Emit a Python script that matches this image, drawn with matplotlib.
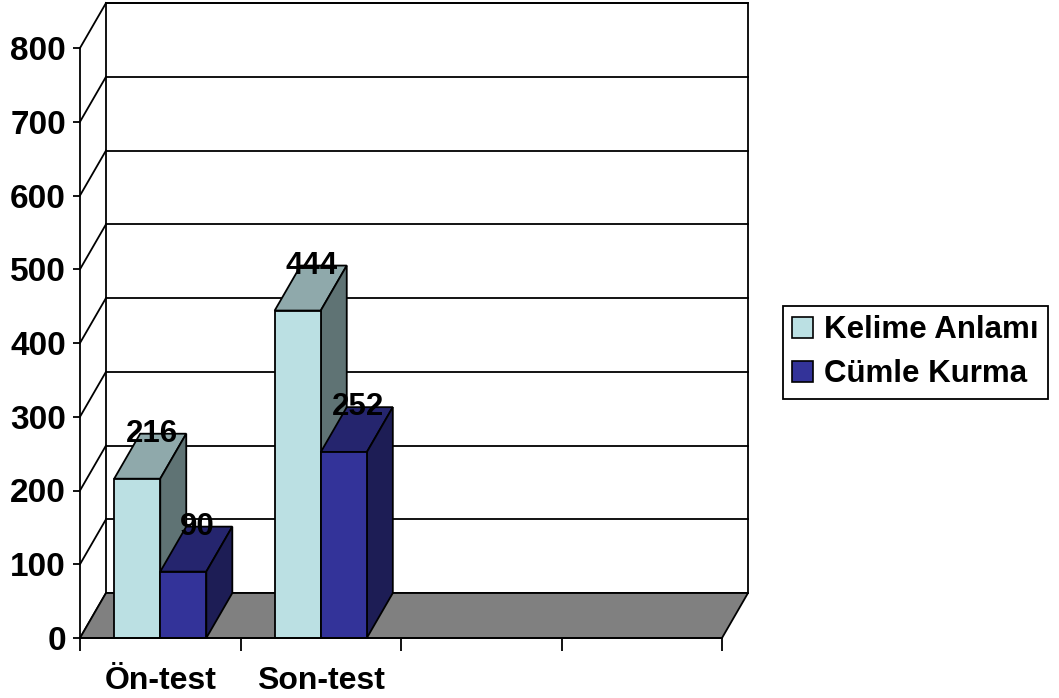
import matplotlib.pyplot as plt
from matplotlib.patches import Polygon, Rectangle, Patch

plt.rcParams['font.family'] = ['Liberation Sans', 'DejaVu Sans']

categories = ['Ön-test', 'Son-test']
series_names = ['Kelime Anlamı', 'Cümle Kurma']
kelime = [216, 444]
cumle = [90, 252]
yticks = [0, 100, 200, 300, 400, 500, 600, 700, 800]

front_cols = ['#BBE0E3', '#333399']
top_cols = ['#8FA9AB', '#25256E']
side_cols = ['#5F7374', '#1D1D55']

n_slots = 4
dx, dy = 0.162, 61      # depth offset in data units
bw = 0.287               # bar width in slot units
lw = 1.3

fig = plt.figure(figsize=(10.59, 6.98), dpi=100)
ax = fig.add_axes([80 / 1059, 60 / 698, 642 / 1059, 590 / 698])
ax.set_xlim(0, n_slots)
ax.set_ylim(0, 800)
ax.patch.set_visible(False)
for s in ['top', 'right']:
    ax.spines[s].set_visible(False)
for s in ['left', 'bottom']:
    ax.spines[s].set_linewidth(lw)
    ax.spines[s].set_zorder(10)

# back wall and gridlines
ax.add_patch(Rectangle((dx, dy), n_slots, 800, facecolor='white', edgecolor='black',
                       lw=lw, clip_on=False, zorder=1))
for v in yticks:
    ax.plot([dx, n_slots + dx], [v + dy, v + dy], color='black', lw=lw, clip_on=False, zorder=1)
    ax.plot([0, dx], [v, v + dy], color='black', lw=lw, clip_on=False, zorder=1)

# floor
ax.add_patch(Polygon([(0, 0), (n_slots, 0), (n_slots + dx, dy), (dx, dy)], closed=True,
                     facecolor='#808080', edgecolor='black', lw=lw, clip_on=False, zorder=2))


def bar3d(x0, h, k):
    kw = dict(edgecolor='black', lw=lw, clip_on=False, zorder=3, joinstyle='miter')
    ax.add_patch(Polygon([(x0, h), (x0 + bw, h), (x0 + bw + dx, h + dy), (x0 + dx, h + dy)],
                         facecolor=top_cols[k], **kw))
    ax.add_patch(Polygon([(x0 + bw, 0), (x0 + bw + dx, dy), (x0 + bw + dx, h + dy), (x0 + bw, h)],
                         facecolor=side_cols[k], **kw))
    ax.add_patch(Rectangle((x0, 0), bw, h, facecolor=front_cols[k], **kw))


for i in range(len(categories)):
    c = i + 0.5
    for k, vals in enumerate([kelime, cumle]):
        x0 = c - bw + k * bw
        bar3d(x0, vals[i], k)
        ax.text(x0 + bw / 2 + dx * 0.55, vals[i] + dy, str(vals[i]), ha='center', va='center',
                fontsize=22.5, fontweight='bold', color='black', zorder=5)

ax.set_yticks(yticks)
ax.set_yticklabels([str(v) for v in yticks], fontsize=24, fontweight='bold')
ax.tick_params(axis='y', length=5, width=lw, pad=5)
ax.set_xticks(range(n_slots + 1))
ax.set_xticklabels([])
ax.tick_params(axis='x', which='major', length=9, width=lw, direction='out')
ax.set_xticks([i + 0.5 for i in range(len(categories))], minor=True)
ax.set_xticklabels(categories, minor=True, fontsize=23, fontweight='bold')
ax.tick_params(axis='x', which='minor', length=0, pad=20)

handles = [Patch(facecolor=front_cols[k], edgecolor='black', lw=1.2) for k in range(2)]
leg = fig.legend(handles, series_names, loc='upper left', bbox_to_anchor=(783 / 1059, 1 - 306 / 698),
                 frameon=True, fancybox=False, edgecolor='black', framealpha=1,
                 prop={'size': 22.5, 'weight': 'bold'}, handlelength=0.65, handleheight=0.65,
                 handletextpad=0.35, borderpad=0.3, labelspacing=0.45, borderaxespad=0)
leg.get_frame().set_linewidth(1.3)

fig.savefig('out.png', dpi=100)
